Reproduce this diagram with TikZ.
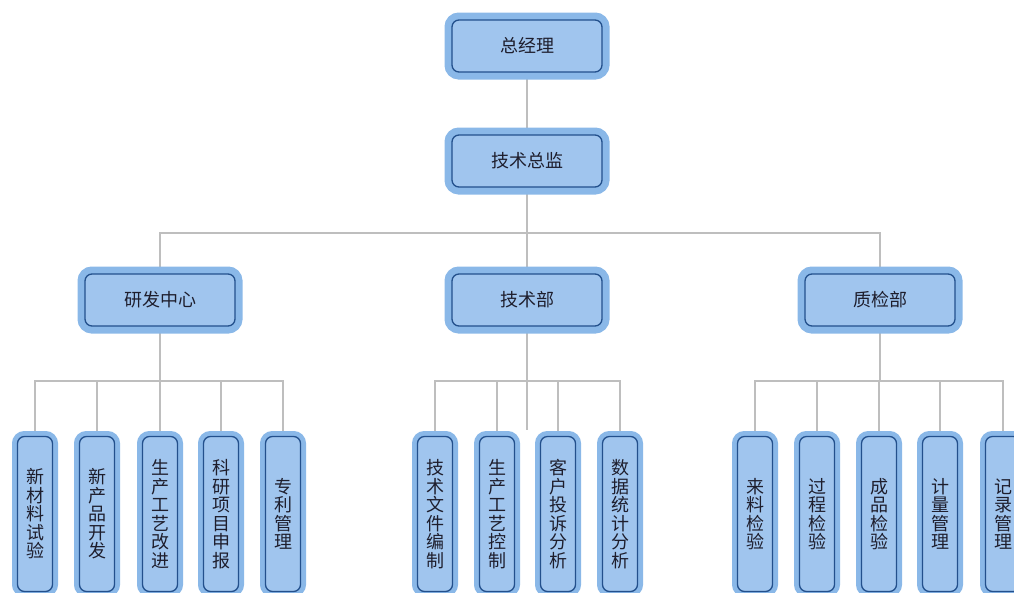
\documentclass[tikz,border=0pt]{standalone}
\usepackage{fontspec}
\usepackage{tikz}
\usetikzlibrary{backgrounds}
\newfontfamily\cjk{Noto Sans CJK SC}

\definecolor{ringblue}{RGB}{138,184,232}
\definecolor{boxblue}{RGB}{160,197,238}
\definecolor{edgeblue}{RGB}{35,80,140}
\definecolor{linkgray}{RGB}{190,190,190}
\definecolor{inkcol}{RGB}{30,30,45}

\tikzset{
  unit/.style={draw=edgeblue,line width=1.3pt,fill=boxblue,rounded corners=7pt,
    preaction={draw=ringblue,fill=ringblue,line width=15pt},
    minimum width=150pt,minimum height=52pt,inner sep=0pt,
    font=\cjk\fontsize{18}{20}\selectfont,text=inkcol},
  task/.style={draw=edgeblue,line width=1.3pt,fill=boxblue,rounded corners=7pt,
    preaction={draw=ringblue,fill=ringblue,line width=11pt},
    minimum width=35pt,minimum height=155pt,inner sep=0pt,
    text width=20pt,align=center,
    font=\cjk\fontsize{18}{18.5}\selectfont,text=inkcol},
  link/.style={draw=linkgray,line width=1.4pt}
}

\begin{document}
\begin{tikzpicture}[x=1pt,y=-1pt]
  \clip (0,0) rectangle (1014,592);

  \node[unit] (gm) at (527,46) {总经理};
  \node[unit] (cto) at (527,161) {技术总监};

  \node[unit] (rd) at (160,300) {研发中心};
  \node[unit] (tech) at (527,300) {技术部};
  \node[unit] (qc) at (880,300) {质检部};

  % research
  \node[task] (rd1) at (35,514) {新\\材\\料\\试\\验};
  \node[task] (rd2) at (97,514) {新\\产\\品\\开\\发};
  \node[task] (rd3) at (160,514) {生\\产\\工\\艺\\改\\进};
  \node[task] (rd4) at (221,514) {科\\研\\项\\目\\申\\报};
  \node[task] (rd5) at (283,514) {专\\利\\管\\理};

  % technology
  \node[task] (te1) at (435,514) {技\\术\\文\\件\\编\\制};
  \node[task] (te2) at (497,514) {生\\产\\工\\艺\\控\\制};
  \node[task] (te3) at (558,514) {客\\户\\投\\诉\\分\\析};
  \node[task] (te4) at (620,514) {数\\据\\统\\计\\分\\析};

  % quality
  \node[task] (qc1) at (755,514) {来\\料\\检\\验};
  \node[task] (qc2) at (817,514) {过\\程\\检\\验};
  \node[task] (qc3) at (879,514) {成\\品\\检\\验};
  \node[task] (qc4) at (940,514) {计\\量\\管\\理};
  \node[task] (qc5) at (1003,514) {记\\录\\管\\理};

  \coordinate (hub) at (527,233);
  \coordinate (rdbus) at (160,381);
  \coordinate (techbus) at (527,381);
  \coordinate (techend) at (527,430);
  \coordinate (qcbus) at (880,381);

  \begin{scope}[on background layer]
    \draw[link] (gm.center) -- (cto.center);
    \draw[link] (cto.center) -- (hub);
    \draw[link] (hub) -| (rd.center);
    \draw[link] (hub) -| (qc.center);
    \draw[link] (hub) -- (tech.center);
    \draw[link] (rd.center) -- (rdbus);
    \foreach \c in {rd1,rd2,rd3,rd4,rd5}
      \draw[link] (rdbus) -| (\c.center);
    \draw[link] (tech.center) -- (techend);
    \foreach \c in {te1,te2,te3,te4}
      \draw[link] (techbus) -| (\c.center);
    \draw[link] (qc.center) -- (qcbus);
    \foreach \c in {qc1,qc2,qc3,qc4,qc5}
      \draw[link] (qcbus) -| (\c.center);
  \end{scope}
\end{tikzpicture}
\end{document}
